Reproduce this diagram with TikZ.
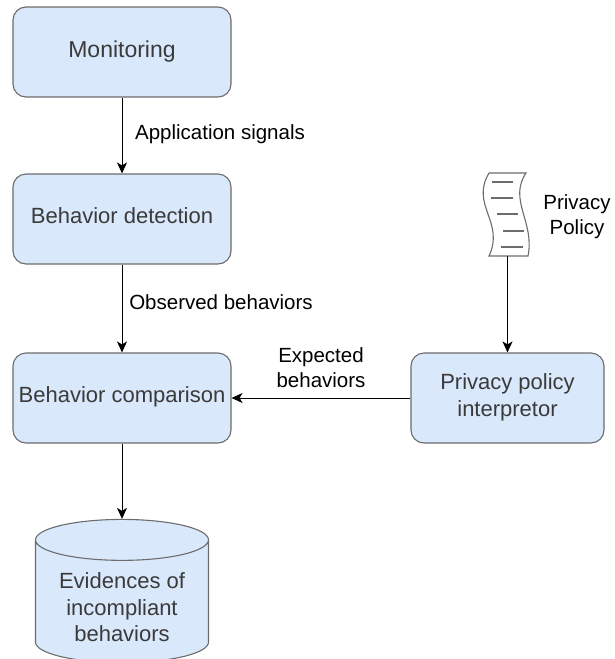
\documentclass[tikz,border=0pt]{standalone}
\usepackage{fontspec}
\setmainfont{Liberation Sans}
\usetikzlibrary{arrows.meta,shapes.geometric}
\definecolor{boxfill}{HTML}{DAE8FC}
\definecolor{boxline}{HTML}{6C6C6C}
\definecolor{boxtext}{HTML}{3A3A3A}
\newcommand{\boxstrut}{\rule[-6pt]{0pt}{20pt}}
\begin{document}
\begin{tikzpicture}
[x=1pt,y=-1pt,
  boxdecorate/.style={shape=rectangle,draw=boxline,fill=boxfill,text=boxtext,line width=1.1pt,
    rounded corners=13pt,minimum height=90pt,align=center,inner sep=0pt,
    font=\fontsize{22}{27}\selectfont},
  storedecorate/.style={shape=cylinder,shape border rotate=90,aspect=0.325,draw=boxline,fill=boxfill,
    text=boxtext,line width=1.1pt,minimum width=173pt,minimum height=142pt,align=center,inner sep=0pt,
    font=\fontsize{22}{26.5}\selectfont},
  labeldecorate/.style={align=center,inner sep=0pt,font=\fontsize{20.5}{25}\selectfont},
  linedecorate/.style={-{Stealth[length=11pt,width=10pt,inset=3pt]},line width=1pt},
  scrolldecorate/.style={draw=boxline,line width=1.1pt}]
\clip (0,0) rectangle (614,659);
%% boxes
\foreach \nodename/\x/\y/\boxwidth/\boxtitle in {
  monitoring/122/52/218/{\fontsize{23}{27}\selectfont Monitoring}, detection/122/219/218/Behavior detection,
  comparison/122/398/218/Behavior comparison, interpretor/507.5/398/193/{Privacy policy\\interpretor}}
{
  \node (\nodename) at (\x,\y) [boxdecorate,minimum width=\boxwidth pt] {\boxstrut\boxtitle\boxstrut};
}
%% evidence store
\node (evidences) at (122,591) [storedecorate,anchor=shape center] {\rule{0pt}{28pt}Evidences of\\incompliant\\behaviors};
%% privacy policy document
\draw[scrolldecorate] (489,173) -- (526,173)
  .. controls (508,200) and (535,222) .. (528,256) -- (489,256)
  .. controls (505,222) and (470,205) .. (489,173);
\foreach \xa/\xb/\y in {492/513/182, 491/513/198, 497/518/214, 503/524/231, 501/523/247}
{
  \draw[scrolldecorate] (\xa,\y) -- (\xb,\y);
}
\coordinate (policy) at (507.5,256);
%% labels
\node (signals) at (220,134) [labeldecorate] {Application signals};
\node (observed) at (221,302) [labeldecorate] {Observed behaviors};
\node (expected) at (321,367.5) [labeldecorate] {Expected\\behaviors};
\node (privacy) at (577,217) [labeldecorate] {Privacy\\Policy};
%% edges or lines
\path
\foreach \startnode/\endnode in {monitoring/detection, detection/comparison, comparison/evidences,
  policy/interpretor, interpretor/comparison} {
  (\startnode) edge[linedecorate] (\endnode)
};
\end{tikzpicture}
\end{document}
